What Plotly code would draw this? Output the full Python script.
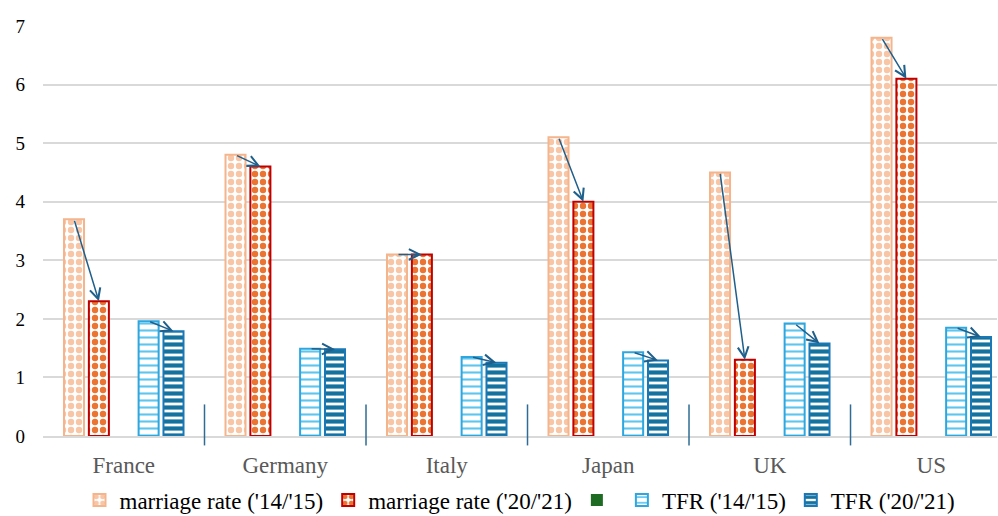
import plotly.graph_objects as go

# ---- data ----
countries = ["France", "Germany", "Italy", "Japan", "UK", "US"]
marriage_14_15 = [3.7, 4.8, 3.1, 5.1, 4.5, 6.8]
marriage_20_21 = [2.3, 4.6, 3.1, 4.0, 1.3, 6.1]
empty_series = [None, None, None, None, None, None]
tfr_14_15 = [1.96, 1.49, 1.35, 1.43, 1.92, 1.85]
tfr_20_21 = [1.79, 1.48, 1.25, 1.29, 1.58, 1.69]
series_names = ["marriage rate ('14/'15)", "marriage rate ('20/'21)", "",
                "TFR ('14/'15)", "TFR ('20/'21)"]
y_ticks = [0, 1, 2, 3, 4, 5, 6, 7]

# ---- styling ----
FONT = "Liberation Serif"
ARROW = "#1f5f8b"
SLOT = 0.154       # spacing between bar slots inside a category
BAR_W = 0.124      # bar width in category units
X_RANGE = [-0.5, 5.407]   # right part of the last category is cropped in the original

styles = [
    dict(fg="#f8c6a6", line="#f4b48c", shape=".", size=8, sol=0.5),
    dict(fg="#ec7432", line="#c00000", shape=".", size=8, sol=0.5),
    dict(fg="#1e6b23", line="#1e6b23", shape="", size=8, sol=0.5),
    dict(fg="#5cc5f0", line="#2ea6df", shape="-", size=7, sol=0.3),
    dict(fg="#14729f", line="#1a78b6", shape="-", size=7, sol=0.6),
]
all_series = [marriage_14_15, marriage_20_21, empty_series, tfr_14_15, tfr_20_21]
x_idx = list(range(len(countries)))


def slot_center(i):
    return (i - 2) * SLOT


fig = go.Figure()
for i, (vals, name, st) in enumerate(zip(all_series, series_names, styles)):
    if st["shape"]:
        marker = dict(color="white",
                      pattern=dict(shape=st["shape"], fgcolor=st["fg"], bgcolor="white",
                                   size=st["size"], solidity=st["sol"], fillmode="replace"),
                      line=dict(color=st["line"], width=2))
    else:
        marker = dict(color=st["fg"], line=dict(color=st["line"], width=0))
    fig.add_trace(go.Bar(
        x=x_idx, y=vals, name=name,
        width=BAR_W, offset=slot_center(i) - BAR_W / 2,
        marker=marker, showlegend=True,
    ))

# arrows: from top of first-period bar to top of second-period bar
annotations = []
for a, b in [(0, 1), (3, 4)]:
    va, vb = all_series[a], all_series[b]
    for k in x_idx:
        annotations.append(dict(
            x=k + slot_center(b), y=vb[k], ax=k + slot_center(a), ay=va[k],
            xref="x", yref="y", axref="x", ayref="y",
            showarrow=True, arrowhead=5, arrowsize=1.4, arrowwidth=1.5,
            arrowcolor=ARROW, text="", standoff=0,
        ))

# small separator marks at category boundaries
shapes = []
for k in x_idx[:-1]:
    shapes.append(dict(type="line", xref="x", yref="paper",
                       x0=k + 0.5, x1=k + 0.5, y0=-0.023, y1=0.077,
                       line=dict(color="#2f6b95", width=1.5)))

fig.update_layout(
    width=998, height=516,
    margin=dict(l=43, r=1, t=26, b=80),
    plot_bgcolor="white", paper_bgcolor="white",
    barmode="overlay",
    font=dict(family=FONT, color="black"),
    annotations=annotations, shapes=shapes,
    legend=dict(orientation="h", x=0.5, xanchor="center",
                yref="container", y=0.031, yanchor="middle",
                font=dict(size=23, family=FONT, color="black"),
                bgcolor="rgba(0,0,0,0)"),
    xaxis=dict(range=X_RANGE, tickvals=x_idx, ticktext=countries,
               showgrid=False, zeroline=False, showline=True, automargin=False,
               linecolor="#d9d9d9", linewidth=1.5, ticks="",
               tickfont=dict(size=23, color="#595959", family=FONT),
               ticklabelstandoff=8),
    yaxis=dict(range=[0, 7], tickvals=y_ticks, showgrid=True, automargin=False,
               gridcolor="#d9d9d9", gridwidth=1.5, zeroline=False,
               showline=False, ticks="",
               tickfont=dict(size=19, color="black", family=FONT),
               ticklabelstandoff=17),
)

fig.write_html("out.html", config={"displayModeBar": False},
               post_script="document.body.style.margin='0';")
